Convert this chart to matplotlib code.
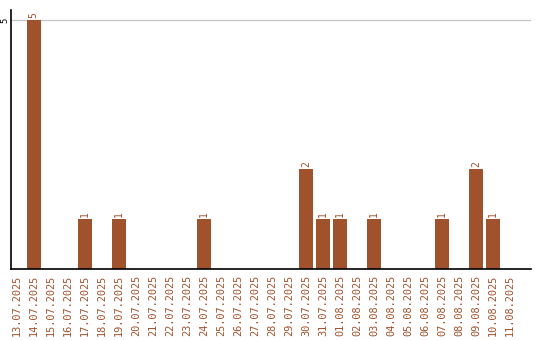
import matplotlib
matplotlib.use("Agg")
import matplotlib.pyplot as plt
import numpy as np

dates = ["13.07.2025", "14.07.2025", "15.07.2025", "16.07.2025", "17.07.2025",
         "18.07.2025", "19.07.2025", "20.07.2025", "21.07.2025", "22.07.2025",
         "23.07.2025", "24.07.2025", "25.07.2025", "26.07.2025", "27.07.2025",
         "28.07.2025", "29.07.2025", "30.07.2025", "31.07.2025", "01.08.2025",
         "02.08.2025", "03.08.2025", "04.08.2025", "05.08.2025", "06.08.2025",
         "07.08.2025", "08.08.2025", "09.08.2025", "10.08.2025", "11.08.2025"]
counts = [0, 5, 0, 0, 1, 0, 1, 0, 0, 0, 0, 1, 0, 0, 0, 0, 0, 2, 1, 1,
          0, 1, 0, 0, 0, 1, 0, 2, 1, 0]
yticks = [5]

color = "#A0522D"
mono = "DejaVu Sans Mono"
fig = plt.figure(figsize=(5.4, 3.4), dpi=100)
ax = fig.add_axes([0.0198, 0.209, 0.963, 0.761])

x = np.arange(len(dates))
ax.bar(x, counts, width=0.82, color=color, zorder=2)
for xi, v in zip(x, counts):
    if v > 0:
        ax.text(xi, v + 0.04, str(v), rotation=90, ha="center", va="bottom",
                color=color, fontsize=7, family=mono)

ax.set_xlim(-0.35, 30.2)
ax.set_ylim(0, 5.2)
ax.set_xticks(x)
ax.set_xticklabels(dates, rotation=90, color=color, fontsize=7.4, family=mono)
ax.set_yticks(yticks)
ax.set_yticklabels([str(t) for t in yticks], rotation=90, fontsize=6.5,
                   family=mono, va="center")
ax.tick_params(axis="x", length=0, pad=4)
ax.tick_params(axis="y", length=0, pad=1)
ax.grid(axis="y", color="#c8c8c8", linewidth=1, zorder=0)
for s in ("top", "right"):
    ax.spines[s].set_visible(False)
ax.spines["left"].set_linewidth(1.2)
ax.spines["bottom"].set_linewidth(1.2)

fig.savefig("out.png", dpi=100)
